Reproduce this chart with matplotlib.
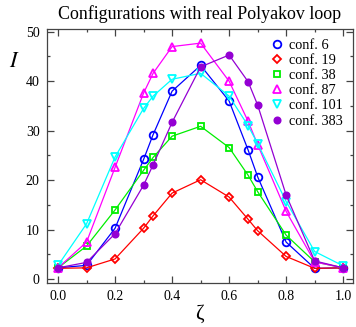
import numpy as np
import matplotlib.pyplot as plt
from matplotlib.ticker import MultipleLocator

zeta = [0.0, 0.1, 0.2, 0.3, 1/3, 0.4, 0.5, 0.6, 2/3, 0.7, 0.8, 0.9, 1.0]

conf6 = [2.3, 2.8, 10.3, 24.2, 29.2, 38.0, 43.2, 36.0, 26.1, 20.7, 7.5, 2.2, 2.3]
conf19 = [2.2, 2.3, 4.1, 10.3, 12.8, 17.4, 20.1, 16.6, 12.1, 9.8, 4.6, 2.2, 2.3]
conf38 = [2.3, 6.7, 14.0, 22.0, 24.6, 28.9, 30.9, 26.6, 21.0, 17.7, 8.9, 3.5, 2.3]
conf87 = [2.3, 7.5, 22.6, 37.6, 41.6, 47.0, 47.7, 40.0, 31.9, 27.2, 13.7, 3.5, 2.3]
conf101 = [2.8, 11.2, 24.7, 34.5, 37.0, 40.4, 41.6, 37.0, 31.0, 27.4, 15.7, 5.6, 2.7]
conf383 = [2.3, 3.4, 9.2, 19.0, 23.1, 31.7, 42.9, 45.3, 39.9, 35.2, 17.0, 3.7, 2.3]

labels = ["conf. 6", "conf. 19", "conf. 38", "conf. 87", "conf. 101", "conf. 383"]
colors = ["#0000ff", "#ff0000", "#00ee00", "#ff00ff", "#00ffff", "#9400d3"]
markers = ["o", "D", "s", "^", "v", "o"]
msizes = [5.5, 3.8, 5, 6, 6, 4.5]

plt.rcParams['font.family'] = ['Liberation Serif', 'DejaVu Serif']
plt.rcParams['mathtext.fontset'] = 'stix'

fig = plt.figure(figsize=(3.56, 3.27), dpi=100)
ax = fig.add_axes([0.131, 0.134, 0.861, 0.778])

series = [conf6, conf19, conf38, conf87, conf101, conf383]
for ys, lab, c, m, ms in zip(series, labels, colors, markers, msizes):
    filled = lab == "conf. 383"
    ax.plot(zeta, ys, color=c, lw=0.9, marker=m, ms=ms,
            mfc=c if filled else 'none', mec=c, mew=1.3, label=lab)

ax.set_xlim(-0.04, 1.035)
ax.set_ylim(-0.8, 50.6)
ax.xaxis.set_major_locator(MultipleLocator(0.2))
ax.xaxis.set_minor_locator(MultipleLocator(0.1))
ax.yaxis.set_major_locator(MultipleLocator(10))
ax.yaxis.set_minor_locator(MultipleLocator(5))
ax.xaxis.set_major_formatter(plt.FuncFormatter(lambda v, p: "%.1f" % v))
ax.tick_params(which='both', direction='in', top=True, right=True,
               labelsize=10, color='#444444')
ax.tick_params(which='major', length=5, width=0.9, pad=5)
ax.tick_params(which='minor', length=2.5, width=0.9)
for s in ax.spines.values():
    s.set_linewidth(0.9)
    s.set_color('#444444')

ax.set_title("Configurations with real Polyakov loop", fontsize=12.9, pad=7)
ax.set_xlabel("ζ", fontsize=15, labelpad=1)
fig.text(0.04, 0.81, "$I$", fontsize=16, ha='center', va='center')

ax.legend(loc='upper right', fontsize=10.3, frameon=False, handlelength=0.6,
          handletextpad=0.6, labelspacing=0.15, borderaxespad=0.3,
          markerscale=1.0)
for line in ax.get_legend().get_lines():
    line.set_linestyle('none')

fig.savefig("out.png", dpi=100)
